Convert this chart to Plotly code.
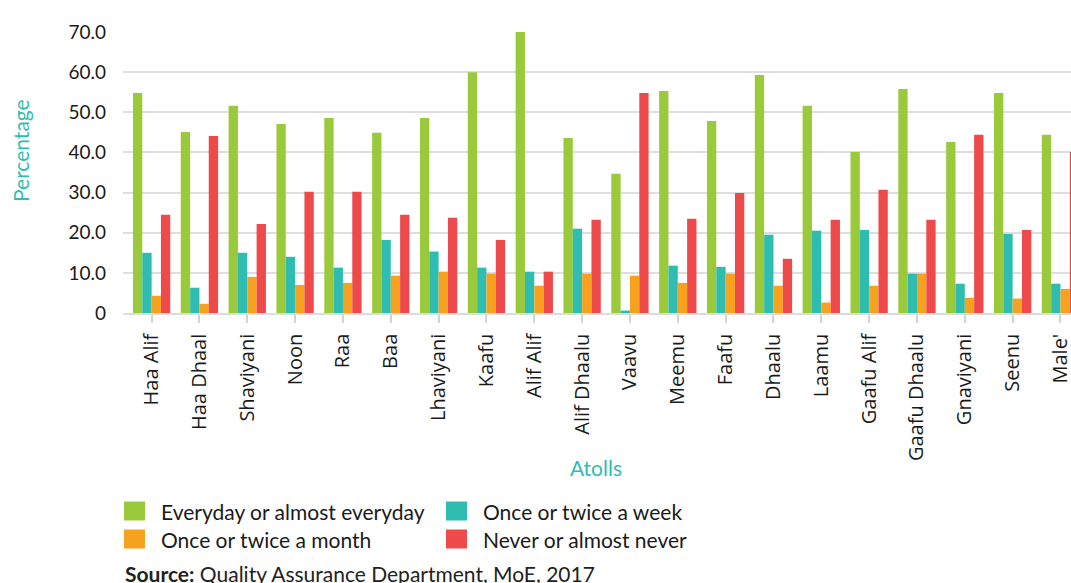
import plotly.graph_objects as go

# ---- data ----
atolls = ["Haa Alif", "Haa Dhaal", "Shaviyani", "Noon", "Raa", "Baa", "Lhaviyani", "Kaafu",
          "Alif Alif", "Alif Dhaalu", "Vaavu", "Meemu", "Faafu", "Dhaalu", "Laamu", "Gaafu Alif",
          "Gaafu Dhaalu", "Gnaviyani", "Seenu", "Male'"]
everyday = [54.8, 45.1, 51.6, 47.1, 48.6, 44.9, 48.6, 60.0, 70.0, 43.6,
            34.7, 55.3, 47.8, 59.3, 51.6, 40.1, 55.8, 42.6, 54.8, 44.4]
weekly = [15.0, 6.3, 15.0, 14.0, 11.3, 18.2, 15.3, 11.3, 10.3, 21.0,
          0.6, 11.8, 11.5, 19.5, 20.5, 20.7, 9.8, 7.3, 19.7, 7.3]
monthly = [4.3, 2.3, 9.0, 7.0, 7.5, 9.3, 10.3, 9.8, 6.8, 9.8,
           9.3, 7.5, 9.8, 6.8, 2.6, 6.8, 9.8, 3.8, 3.6, 6.0]
never = [24.5, 44.1, 22.2, 30.2, 30.2, 24.5, 23.7, 18.2, 10.3, 23.2,
         54.8, 23.5, 29.9, 13.5, 23.2, 30.7, 23.2, 44.4, 20.7, 40.1]

series_names = ["Everyday or almost everyday", "Once or twice a week",
                "Once or twice a month", "Never or almost never"]
y_tickvals = [0, 10, 20, 30, 40, 50, 60, 70]
y_ticktext = ["0", "10.0", "20.0", "30.0", "40.0", "50.0", "60.0", "70.0"]

COLORS = ["#9ac93c", "#2fbdb1", "#f7a21f", "#ef4a4b"]
TEAL = "#2fbdb1"
FONT = "Lato"
W, H = 1071, 583
L, R, T, B = 123, 0, 32, 270


def px_x(x):  # window pixel -> paper
    return (x - L) / (W - L - R)


def px_y(y):
    return (H - B - y) / (H - T - B)


fig = go.Figure()
for name, vals, col in zip(series_names, [everyday, weekly, monthly, never], COLORS):
    fig.add_trace(go.Bar(x=atolls, y=vals, name=name, marker=dict(color=col, line=dict(width=0)),
                         showlegend=False))

# manual legend (two columns, square swatches)
legend_pos = [(124, 511), (446, 511), (124, 539), (446, 539)]
for (x0, yc), name, col in zip(legend_pos, series_names, COLORS):
    fig.add_shape(type="rect", xref="paper", yref="paper", x0=px_x(x0), x1=px_x(x0 + 21),
                  y0=px_y(yc - 9.5), y1=px_y(yc + 9.5), fillcolor=col, line=dict(width=0))
    fig.add_annotation(xref="paper", yref="paper", x=px_x(x0 + 35), y=px_y(yc), text=name,
                       showarrow=False, xanchor="left", yanchor="middle",
                       font=dict(family=FONT, size=21, color="#1a1a1a"))

fig.add_annotation(xref="paper", yref="paper", x=px_x(123), y=px_y(573),
                   text="<b>Source:</b> Quality Assurance Department, MoE, 2017",
                   showarrow=False, xanchor="left", yanchor="middle",
                   font=dict(family=FONT, size=21, color="#222"))
fig.add_annotation(xref="paper", yref="paper", x=px_x(20), y=px_y(151), text="Percentage",
                   textangle=-90, showarrow=False, xanchor="center", yanchor="middle",
                   font=dict(family=FONT, size=21, color=TEAL))
fig.add_annotation(xref="paper", yref="paper", x=px_x(596), y=px_y(468), text="Atolls",
                   showarrow=False, xanchor="center", yanchor="middle",
                   font=dict(family=FONT, size=21, color=TEAL))

fig.update_layout(
    width=W, height=H, margin=dict(l=L, r=R, t=T, b=B, autoexpand=False),
    plot_bgcolor="white", paper_bgcolor="white", barmode="group", bargap=0.22, bargroupgap=0,
    font=dict(family=FONT, color="#222"),
)
fig.update_xaxes(range=[-0.598, 19.22], ticks="outside", ticklen=8, tickcolor="#d3d3d3", tickwidth=1.5,
                 ticklabelstandoff=3, tickangle=-90,
                 tickfont=dict(family="Open Sans", size=20, color="#1a1a1a"),
                 showline=True, linecolor="#dcdcdc", linewidth=1.5, showgrid=False)
fig.update_yaxes(range=[0, 70], tickvals=y_tickvals, ticktext=y_ticktext, showgrid=True,
                 gridcolor="#dedede", gridwidth=1.5, zeroline=False, ticklabelstandoff=16,
                 tickfont=dict(family=FONT, size=19, color="#1a1a1a"))

# drop the default page margin so the figure fills the window exactly
fig.write_html("out.html", config={"displayModeBar": False},
               post_script="document.body.style.margin='0';"
                           "document.body.style.overflow='hidden';")
